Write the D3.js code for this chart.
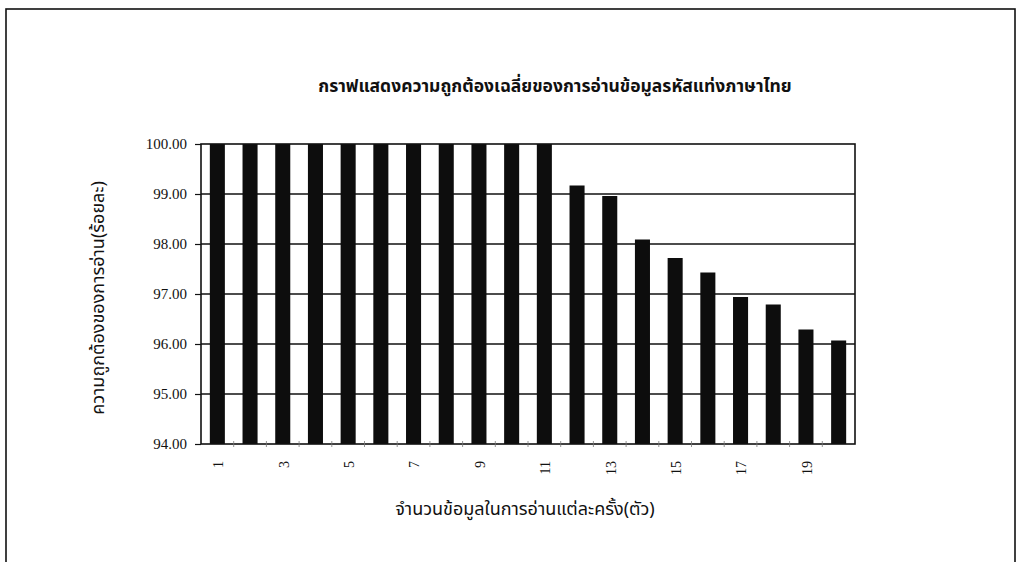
<!DOCTYPE html>
<html>
<head>
<meta charset="utf-8">
<script src="https://cdn.jsdelivr.net/npm/d3@7/dist/d3.min.js"></script>
<style>
  html, body { margin: 0; padding: 0; background: #fff; }
  svg { display: block; }
  .thai { font-family: "Noto Sans Thai", "Noto Sans", "DejaVu Sans", sans-serif; fill: #111; }
  .num { font-family: "Liberation Serif", "Times New Roman", serif; fill: #111; }
</style>
</head>
<body>
<svg id="chart" width="1018" height="562"></svg>
<script>
// Number of characters read per pass (1..20) and the mean reading accuracy (%)
const categories = d3.range(1, 21);
const accuracy = [
  100.00, 100.00, 100.00, 100.00, 100.00, 100.00, 100.00, 100.00, 100.00, 100.00,
  100.00, 99.17, 98.96, 98.09, 97.72, 97.43, 96.94, 96.79, 96.29, 96.07
];
const yTicks = [94, 95, 96, 97, 98, 99, 100];
const xLabelled = [1, 3, 5, 7, 9, 11, 13, 15, 17, 19];

const titleText = "กราฟแสดงความถูกต้องเฉลี่ยของการอ่านข้อมูลรหัสแท่งภาษาไทย";
const xTitle = "จำนวนข้อมูลในการอ่านแต่ละครั้ง(ตัว)";
const yTitle = "ความถูกต้องของการอ่าน(ร้อยละ)";

const svg = d3.select("#chart");
const plot = { left: 201, right: 855, top: 144, bottom: 444 };

// outer frame
svg.append("rect")
  .attr("x", 6).attr("y", 9)
  .attr("width", 1009).attr("height", 570)
  .attr("fill", "none").attr("stroke", "#111").attr("stroke-width", 1.6);

const x = d3.scaleBand()
  .domain(categories)
  .range([plot.left, plot.right])
  .paddingInner(0.54)
  .paddingOuter(0.27);

const y = d3.scaleLinear()
  .domain([94, 100])
  .range([plot.bottom, plot.top]);

// horizontal gridlines
svg.append("g")
  .selectAll("line")
  .data(yTicks.filter(t => t > 94 && t < 100))
  .join("line")
  .attr("x1", plot.left).attr("x2", plot.right)
  .attr("y1", d => y(d)).attr("y2", d => y(d))
  .attr("stroke", "#111").attr("stroke-width", 1.3);

// bars
svg.append("g")
  .selectAll("rect")
  .data(accuracy)
  .join("rect")
  .attr("x", (d, i) => x(categories[i]))
  .attr("width", x.bandwidth())
  .attr("y", d => y(d))
  .attr("height", d => y(94) - y(d))
  .attr("fill", "#0d0d0d");

// plot border
svg.append("rect")
  .attr("x", plot.left).attr("y", plot.top)
  .attr("width", plot.right - plot.left)
  .attr("height", plot.bottom - plot.top)
  .attr("fill", "none").attr("stroke", "#111").attr("stroke-width", 1.6);

// y axis
const yAxis = d3.axisLeft(y)
  .tickValues(yTicks)
  .tickSize(6)
  .tickPadding(8)
  .tickFormat(d3.format(".2f"));
const gy = svg.append("g")
  .attr("transform", `translate(${plot.left},0)`)
  .call(yAxis);
gy.select(".domain").remove();
gy.selectAll("line").attr("stroke", "#111").attr("stroke-width", 1.2);
gy.selectAll("text")
  .attr("class", "num")
  .style("font-size", "15px");

// x axis: crossing ticks at band boundaries
const step = x.step();
const boundaries = d3.range(1, categories.length).map(i => plot.left + i * step);
svg.append("g")
  .selectAll("line")
  .data(boundaries)
  .join("line")
  .attr("x1", d => d).attr("x2", d => d)
  .attr("y1", plot.bottom - 3).attr("y2", plot.bottom + 3)
  .attr("stroke", "#777").attr("stroke-width", 0.8);

// x tick labels, rotated
svg.append("g")
  .selectAll("text")
  .data(xLabelled)
  .join("text")
  .attr("class", "num")
  .attr("transform", d => `translate(${x(d) + x.bandwidth() / 2 + 1},461) rotate(-90)`)
  .attr("text-anchor", "end")
  .attr("dy", "0.35em")
  .style("font-size", "14px")
  .text(d => d);

// title
svg.append("text")
  .attr("class", "thai")
  .attr("x", 555).attr("y", 92)
  .attr("text-anchor", "middle")
  .style("font-size", "17.5px")
  .style("font-weight", "bold")
  .text(titleText);

// x axis title
svg.append("text")
  .attr("class", "thai")
  .attr("x", 525).attr("y", 515)
  .attr("text-anchor", "middle")
  .style("font-size", "18px")
  .text(xTitle);

// y axis title
svg.append("text")
  .attr("class", "thai")
  .attr("transform", `translate(104,${(plot.top + plot.bottom) / 2 + 4}) rotate(-90)`)
  .attr("text-anchor", "middle")
  .style("font-size", "18px")
  .text(yTitle);
</script>
</body>
</html>
